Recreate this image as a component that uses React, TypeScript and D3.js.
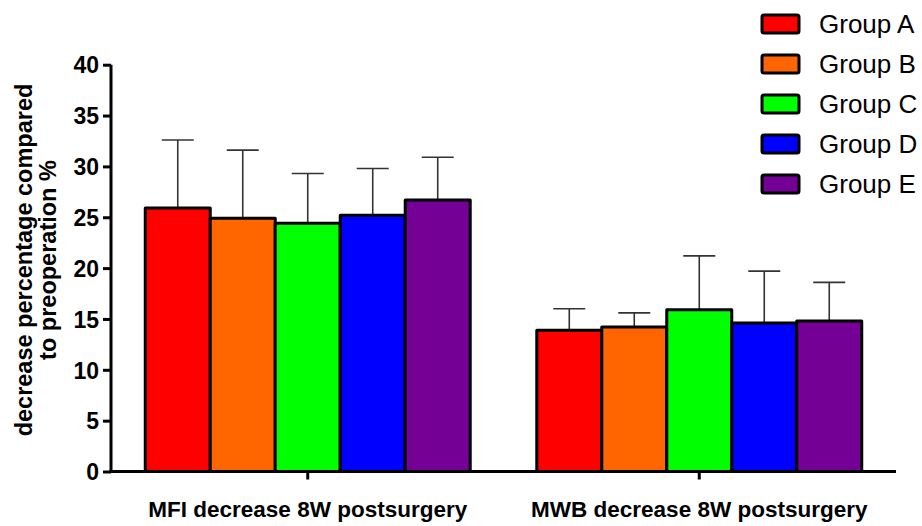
import React, { useEffect, useRef } from "react";
import * as d3 from "d3";

const categories = ["MFI decrease 8W postsurgery", "MWB decrease 8W postsurgery"];
const groups = ["Group A", "Group B", "Group C", "Group D", "Group E"];
const colors = ["#ff0000", "#ff6600", "#00ff00", "#0000ff", "#740096"];
// means and SD per category, ordered as groups
const mfiMean = [25.9, 24.9, 24.4, 25.2, 26.7];
const mfiSd = [6.7, 6.7, 4.9, 4.6, 4.2];
const mwbMean = [13.9, 14.2, 15.9, 14.6, 14.8];
const mwbSd = [2.1, 1.4, 5.3, 5.1, 3.8];
const yTicks = [0, 5, 10, 15, 20, 25, 30, 35, 40];

const App = () => {
    const svgRef = useRef(null);
    const width = 922;
    const height = 526;

    useEffect(() => {
        const svg = d3.select(svgRef.current);
        svg.selectAll("*").remove();

        const x0 = 111;
        const x1 = 896;
        const yBase = 471.5;

        const means = [mfiMean, mwbMean];
        const sds = [mfiSd, mwbSd];
        const rows = categories.flatMap((c, ci) =>
            groups.map((g, gi) => ({ cat: c, group: g, gi, mean: means[ci][gi], sd: sds[ci][gi] }))
        );

        const xScale = d3
            .scaleBand()
            .domain(categories)
            .range([x0, x1])
            .paddingInner(0.17)
            .paddingOuter(0.0875);

        const xInner = d3
            .scaleBand()
            .domain(groups)
            .range([0, xScale.bandwidth()]);

        const yScale = d3.scaleLinear().domain([0, 40]).range([yBase, 64.7]);

        // error bars (upper only)
        const err = svg.append("g").attr("stroke", "#333").attr("stroke-width", 1.6);
        rows.forEach((d) => {
            const cx = xScale(d.cat) + xInner(d.group) + xInner.bandwidth() / 2;
            const top = yScale(d.mean + d.sd);
            err.append("line").attr("x1", cx).attr("x2", cx).attr("y1", yScale(d.mean)).attr("y2", top);
            err.append("line").attr("x1", cx - 16).attr("x2", cx + 16).attr("y1", top).attr("y2", top);
        });

        // bars
        svg
            .append("g")
            .selectAll("rect")
            .data(rows)
            .enter()
            .append("rect")
            .attr("x", (d) => xScale(d.cat) + xInner(d.group))
            .attr("y", (d) => yScale(d.mean))
            .attr("width", xInner.bandwidth())
            .attr("height", (d) => yBase - yScale(d.mean))
            .attr("fill", (d) => colors[d.gi])
            .attr("stroke", "#000")
            .attr("stroke-width", 3)
            .attr("stroke-linejoin", "round");

        // y axis
        const yAxis = d3
            .axisLeft(yScale)
            .tickValues(yTicks)
            .tickSize(8)
            .tickPadding(4)
            .tickSizeOuter(0);
        const yg = svg.append("g").attr("transform", `translate(${x0},0)`).call(yAxis);
        yg.select(".domain").attr("stroke", "#000").attr("stroke-width", 3).attr("d", `M0,${yScale(40)}V${yBase + 1.5}`);
        yg.selectAll(".tick line").attr("stroke", "#000").attr("stroke-width", 3);
        yg.selectAll(".tick text")
            .attr("font-family", "Liberation Sans, Arial, sans-serif")
            .attr("font-weight", "bold")
            .attr("font-size", 23)
            .attr("fill", "#000")
            .attr("dy", "0.36em");

        // x axis
        const xAxis = d3.axisBottom(xScale).tickSize(8).tickSizeOuter(0).tickPadding(22);
        const xg = svg.append("g").attr("transform", `translate(0,${yBase})`).call(xAxis);
        xg.select(".domain").attr("stroke", "#000").attr("stroke-width", 3).attr("d", `M${x0 - 1.5},0H${x1}`);
        xg.selectAll(".tick line").attr("stroke", "#000").attr("stroke-width", 3);
        xg.selectAll(".tick text")
            .attr("font-family", "Liberation Sans, Arial, sans-serif")
            .attr("font-weight", "bold")
            .attr("font-size", 22.5)
            .attr("fill", "#000");

        // y title
        const title = svg
            .append("text")
            .attr("transform", "translate(32,260) rotate(-90)")
            .attr("text-anchor", "middle")
            .attr("font-family", "Liberation Sans, Arial, sans-serif")
            .attr("font-weight", "bold")
            .attr("font-size", 23.5)
            .attr("fill", "#000");
        title.append("tspan").attr("x", 0).attr("y", 0).text("decrease percentage compared");
        title.append("tspan").attr("x", 0).attr("y", 24).text("to preoperation %");

        // legend
        const legend = svg.append("g");
        groups.forEach((g, i) => {
            const cy = 24 + i * 40;
            legend
                .append("rect")
                .attr("x", 762)
                .attr("y", cy - 9)
                .attr("width", 37)
                .attr("height", 18)
                .attr("rx", 2)
                .attr("fill", colors[i])
                .attr("stroke", "#000")
                .attr("stroke-width", 3);
            legend
                .append("text")
                .attr("x", 819)
                .attr("y", cy)
                .attr("dy", "0.36em")
                .attr("font-family", "Liberation Sans, Arial, sans-serif")
                .attr("font-size", 26)
                .attr("fill", "#000")
                .text(g);
        });
    }, []);

    return (
        <svg
            ref={svgRef}
            width={width}
            height={height}
            style={{ position: "absolute", left: 0, top: 0, background: "#fff" }}
        />
    );
};

export default App;
